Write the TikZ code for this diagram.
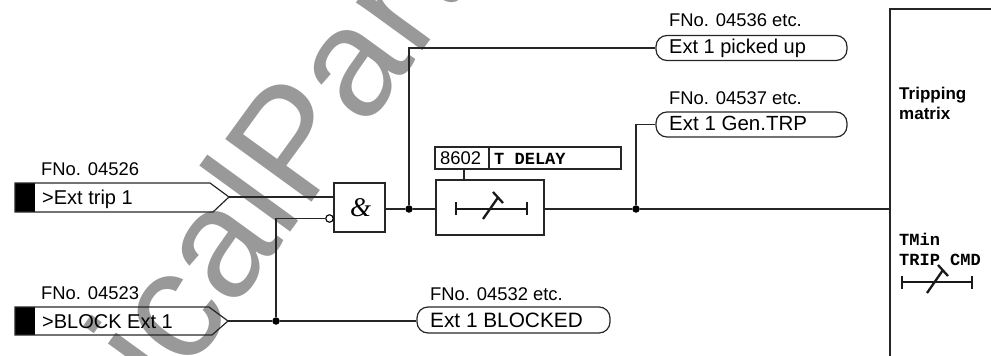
\documentclass[tikz,border=0pt]{standalone}
\usepackage{fontspec}
\setmainfont{Liberation Sans}
\newfontfamily\monofam{Liberation Mono}
\newfontfamily\seriffam{Liberation Serif}
\newcommand{\fsz}[1]{\fontsize{#1}{#1}\selectfont}
\tikzset{
  x=1pt,y=-1pt,
  wire/.style={line width=1.2pt,draw=black!85},
  txt/.style={anchor=base west,inner sep=0pt,font=\fsz{18.4}},
  sig/.style={txt,font=\fsz{20}},
  montxt/.style={txt,font=\monofam\bfseries\fsz{17}},
  pill/.style={draw=black!85,line width=1.2pt,rounded corners=11pt,minimum width=191pt,minimum height=25pt,inner sep=0pt},
  boxn/.style={draw=black!85,line width=1.2pt,inner sep=0pt},
  dot/.style={circle,fill=black,inner sep=0pt,minimum size=7.5pt},
  neg/.style={circle,draw=black,fill=white,line width=1.1pt,inner sep=0pt,minimum size=7.5pt},
  timer/.style={line width=2.3pt,draw=black!90},
}
\begin{document}
\begin{tikzpicture}
\useasboundingbox (0,0) rectangle (991,356);
\begin{scope}
\clip (0,0) rectangle (991,356);
\node[anchor=base west,inner sep=0pt,rotate=54,text=black!40,font=\fsz{155}] (wm) at (168,401) {icalPart};
\end{scope}

% input signals
\fill[black] (15,183) rectangle (35,212);
\draw[wire] (15,183) -- (210,183) -- (229,197) -- (213,212) -- (15,212) -- cycle;
\coordinate (tip1) at (229,197);
\fill[black] (15,307) rectangle (35,335);
\draw[wire] (15,307) -- (209,307) -- (228,321) -- (212,335) -- (15,335) -- cycle;
\coordinate (tip2) at (228,321);

\node[txt] (f1) at (41,175) {FNo. 04526};
\node[sig] (s1) at (42,204) {>Ext trip 1};
\node[txt] (f2) at (41,299) {FNo. 04523};
\node[sig] (s2) at (42,328) {>BLOCK Ext 1};

% AND gate
\node[boxn,minimum width=51pt,minimum height=49pt] (and) at (359.5,207.5) {};
\node[inner sep=0pt,font=\seriffam\itshape\fsz{27}] (amp) at (360.5,208) {\&};
\node[neg] (n1) at (329.5,218.5) {};

% timer box
\node[boxn,minimum width=108pt,minimum height=55pt] (delay) at (490,207.5) {};
\node[boxn,minimum width=54pt,minimum height=22pt] (par) at (462,158) {};
\node[boxn,minimum width=132pt,minimum height=22pt] (pname) at (555,158) {};
\node[txt] (parn) at (440,164) {8602};
\node[montxt] (pnamet) at (494,164) {T DELAY};
\draw[wire] (464,169) -- (464,180);

% timer symbol in delay box
\draw[timer] (456,209) -- (527,209);
\draw[timer] (456,202) -- (456,215);
\draw[timer] (527,202) -- (527,215);
\draw[timer] (483,219) -- (498,197.5);
\draw[timer] (493,192) -- (503,203);

% junctions
\node[dot] (j1) at (409,209) {};
\node[dot] (j2) at (636,209) {};
\node[dot] (j3) at (276,321) {};

% output signals
\node[pill] (p1) at (751.5,48) {};
\node[pill] (p2) at (751.5,124.5) {};
\node[pill,minimum width=193pt,minimum height=26pt] (p3) at (513.5,320) {};
\node[txt] (f3) at (669,27) {FNo. 04536 etc.};
\node[sig] (t3) at (669,53.5) {Ext 1 picked up};
\node[txt] (f4) at (669,104) {FNo. 04537 etc.};
\node[sig,font=\fsz{20.5}] (t4) at (669,130) {Ext 1 Gen.TRP};
\node[txt] (f5) at (430,300) {FNo. 04532 etc.};
\node[sig,font=\fsz{20.8}] (t5) at (430,327.5) {Ext 1 BLOCKED};

% tripping matrix (open at the picture's right and bottom edges)
\coordinate (mtl) at (890,9);
\coordinate (mtr) at (991,9);
\coordinate (mbl) at (890,356);
\coordinate (min) at (890,209);
\draw[wire] (mtr) -- (mtl) -- (mbl);
\node[txt,font=\bfseries\fsz{17}] (m1) at (899,99) {Tripping};
\node[txt,font=\bfseries\fsz{17}] (m2) at (899,119) {matrix};
\node[montxt] (m3) at (899,245) {TMin};
\node[montxt] (m4) at (899,265) {TRIP CMD};
\draw[timer] (902,282) -- (972,282);
\draw[timer] (902,276) -- (902,289);
\draw[timer] (972,276) -- (972,289);
\draw[timer] (927,293) -- (943,270);
\draw[timer] (938,265) -- (948,276);

% connectors
\draw[wire] (tip1) -- (and.west |- tip1);
\draw[wire] (n1.west) -- (j3 |- n1.west) -- (j3);
\draw[wire] (tip2) -- (j3) -- (p3.west |- j3);
\draw[wire] (and.east |- j1) -- (j1) -- (delay.west |- j1);
\draw[wire] (j1) |- (p1.west);
\draw[wire] (delay.east |- j1) -- (j2) -- (min);
\draw[wire] (j2) |- (p2.west);
\end{tikzpicture}
\end{document}
